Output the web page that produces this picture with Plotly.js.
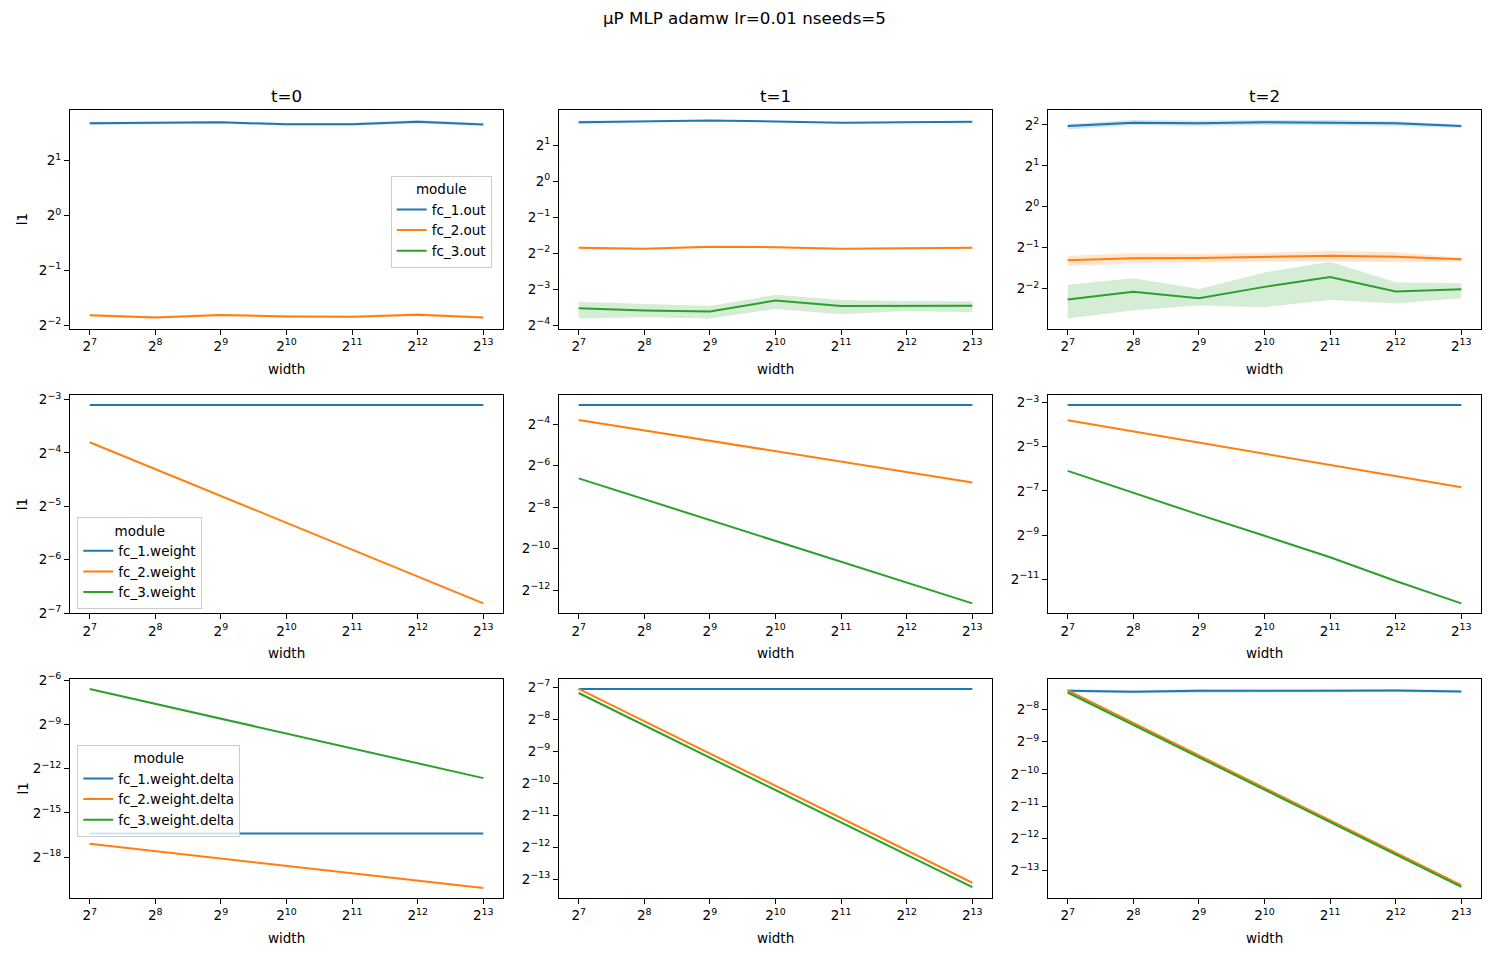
<!DOCTYPE html>
<html>
<head>
<meta charset="utf-8">
<script src="https://cdn.plot.ly/plotly-3.0.1.min.js"></script>
<style>html,body{margin:0;padding:0;background:#fff;}#chart{width:1489px;height:955px;}</style>
</head>
<body>
<div id="chart"></div>
<script>
// ---------- data ----------
const widths = [128, 256, 512, 1024, 2048, 4096, 8192];
const xTickExp = [7, 8, 9, 10, 11, 12, 13];
const colTitles = ['t=0', 't=1', 't=2'];
const rowModules = [
  ['fc_1.out', 'fc_2.out', 'fc_3.out'],
  ['fc_1.weight', 'fc_2.weight', 'fc_3.weight'],
  ['fc_1.weight.delta', 'fc_2.weight.delta', 'fc_3.weight.delta']
];

// row 1: activations (out)
const out_t0_fc1    = [3.20, 3.22, 3.24, 3.16, 3.16, 3.26, 3.15];
const out_t0_fc1_lo = [3.13, 3.17, 3.19, 3.11, 3.11, 3.19, 3.10];
const out_t0_fc1_hi = [3.26, 3.27, 3.29, 3.21, 3.21, 3.34, 3.20];
const out_t0_fc2    = [0.2833, 0.2761, 0.2847, 0.2795, 0.2783, 0.2858, 0.2761];
const out_t0_fc2_lo = [0.279, 0.272, 0.280, 0.275, 0.274, 0.280, 0.272];
const out_t0_fc2_hi = [0.288, 0.280, 0.289, 0.284, 0.282, 0.292, 0.280];
const out_t0_fc3    = [0, 0, 0, 0, 0, 0, 0];

const out_t1_fc1    = [3.114, 3.154, 3.215, 3.154, 3.074, 3.114, 3.134];
const out_t1_fc1_lo = [3.00, 3.12, 3.18, 3.11, 3.03, 3.08, 3.10];
const out_t1_fc1_hi = [3.21, 3.19, 3.25, 3.19, 3.11, 3.15, 3.17];
const out_t1_fc2    = [0.2773, 0.2719, 0.2827, 0.2809, 0.2719, 0.2755, 0.2773];
const out_t1_fc2_lo = [0.268, 0.266, 0.278, 0.276, 0.266, 0.271, 0.272];
const out_t1_fc2_hi = [0.285, 0.277, 0.287, 0.286, 0.277, 0.280, 0.282];
const out_t1_fc3    = [0.0866, 0.0829, 0.0813, 0.1005, 0.0907, 0.0912, 0.0912];
const out_t1_fc3_lo = [0.0711, 0.0729, 0.0711, 0.0856, 0.0773, 0.0824, 0.0802];
const out_t1_fc3_hi = [0.0982, 0.0944, 0.0907, 0.1123, 0.1017, 0.0998, 0.0992];

const out_t2_fc1    = [3.932, 4.161, 4.115, 4.188, 4.161, 4.115, 3.932];
const out_t2_fc1_lo = [3.716, 3.978, 3.934, 4.004, 3.978, 3.934, 3.802];
const out_t2_fc1_hi = [4.070, 4.352, 4.304, 4.356, 4.352, 4.259, 4.022];
const out_t2_fc2    = [0.4034, 0.4174, 0.4197, 0.4291, 0.4363, 0.4291, 0.4105];
const out_t2_fc2_lo = [0.3661, 0.3833, 0.3876, 0.3941, 0.3965, 0.3896, 0.3941];
const out_t2_fc2_hi = [0.4363, 0.4541, 0.4491, 0.4566, 0.4750, 0.4621, 0.4217];
const out_t2_fc3    = [0.2074, 0.2363, 0.2122, 0.2572, 0.3034, 0.2377, 0.2472];
const out_t2_fc3_lo = [0.1503, 0.1731, 0.1876, 0.1824, 0.2062, 0.1937, 0.2122];
const out_t2_fc3_hi = [0.2661, 0.2980, 0.2484, 0.3282, 0.3936, 0.2780, 0.2735];

// row 2: weights
const w_t0_fc1 = [0.1166, 0.1166, 0.1166, 0.1166, 0.1166, 0.1166, 0.1166];
const w_t0_fc2 = [0.0718, 0.0507, 0.0355, 0.0251, 0.0178, 0.0126, 0.00887];
const w_t0_fc3 = [0, 0, 0, 0, 0, 0, 0];
const w_t1_fc1 = [0.1196, 0.1196, 0.1196, 0.1196, 0.1196, 0.1196, 0.1196];
const w_t1_fc2 = [0.0722, 0.0511, 0.0361, 0.0256, 0.0180, 0.0127, 0.00895];
const w_t1_fc3 = [0.01024, 0.00510, 0.002542, 0.001265, 0.000631, 0.0003133, 0.0001562];
const w_t2_fc1 = [0.1161, 0.1161, 0.1161, 0.1161, 0.1161, 0.1161, 0.1161];
const w_t2_fc2 = [0.0716, 0.0505, 0.0357, 0.0251, 0.0177, 0.0125, 0.00878];
const w_t2_fc3 = [0.01466, 0.00733, 0.00371, 0.00191, 0.000975, 0.000462, 0.000229];

// row 3: weight deltas
const d_t0_fc1 = [1.168e-5, 1.168e-5, 1.168e-5, 1.168e-5, 1.168e-5, 1.168e-5, 1.168e-5];
const d_t0_fc2 = [7.163e-6, 5.065e-6, 3.581e-6, 2.532e-6, 1.791e-6, 1.266e-6, 8.954e-7];
const d_t0_fc3 = [0.01038, 0.005161, 0.002566, 0.001277, 0.000635, 0.0003159, 0.0001571];
const d_t1_fc1 = [0.007536, 0.007536, 0.007536, 0.007536, 0.007536, 0.007536, 0.007536];
const d_t1_fc2 = [0.007536, 0.003745, 0.001861, 0.0009252, 0.0004597, 0.0002284, 0.0001135];
const d_t1_fc3 = [0.006906, 0.003429, 0.001701, 0.0008449, 0.0004192, 0.0002082, 0.0001033];
const d_t1_fc3_lo = [0.00677, 0.00336, 0.001667, 0.000828, 0.000411, 0.000204, 0.0001012];
const d_t1_fc3_hi = [0.00705, 0.00350, 0.001736, 0.000862, 0.000428, 0.0002125, 0.0001054];
const d_t2_fc1    = [0.005816, 0.005692, 0.005816, 0.005776, 0.005816, 0.005856, 0.005732];
const d_t2_fc1_lo = [0.00564, 0.00552, 0.00564, 0.00560, 0.00564, 0.00568, 0.00556];
const d_t2_fc1_hi = [0.00600, 0.00587, 0.00600, 0.00595, 0.00600, 0.00605, 0.00592];
const d_t2_fc2 = [0.005856, 0.002918, 0.001453, 0.0007238, 0.0003604, 0.0001796, 0.0000894];
const d_t2_fc3    = [0.005609, 0.002796, 0.001394, 0.0006953, 0.0003469, 0.0001730, 0.00008626];
const d_t2_fc3_lo = [0.00546, 0.00272, 0.00136, 0.000677, 0.000338, 0.000168, 0.0000840];
const d_t2_fc3_hi = [0.00575, 0.00286, 0.00143, 0.000713, 0.000356, 0.000177, 0.0000886];

// y tick exponents (base 2) per panel
const yTicks_r1 = [[1, 0, -1, -2], [1, 0, -1, -2, -3, -4], [2, 1, 0, -1, -2]];
const yTicks_r2 = [[-3, -4, -5, -6, -7], [-4, -6, -8, -10, -12], [-3, -5, -7, -9, -11]];
const yTicks_r3 = [[-6, -9, -12, -15, -18], [-7, -8, -9, -10, -11, -12, -13], [-8, -9, -10, -11, -12, -13]];

// ---------- panels ----------
const panels = [
  [ [[out_t0_fc1, out_t0_fc1_lo, out_t0_fc1_hi], [out_t0_fc2, out_t0_fc2_lo, out_t0_fc2_hi], [out_t0_fc3]],
    [[out_t1_fc1, out_t1_fc1_lo, out_t1_fc1_hi], [out_t1_fc2, out_t1_fc2_lo, out_t1_fc2_hi], [out_t1_fc3, out_t1_fc3_lo, out_t1_fc3_hi]],
    [[out_t2_fc1, out_t2_fc1_lo, out_t2_fc1_hi], [out_t2_fc2, out_t2_fc2_lo, out_t2_fc2_hi], [out_t2_fc3, out_t2_fc3_lo, out_t2_fc3_hi]] ],
  [ [[w_t0_fc1], [w_t0_fc2], [w_t0_fc3]],
    [[w_t1_fc1], [w_t1_fc2], [w_t1_fc3]],
    [[w_t2_fc1], [w_t2_fc2], [w_t2_fc3]] ],
  [ [[d_t0_fc1], [d_t0_fc2], [d_t0_fc3]],
    [[d_t1_fc1], [d_t1_fc2], [d_t1_fc3, d_t1_fc3_lo, d_t1_fc3_hi]],
    [[d_t2_fc1, d_t2_fc1_lo, d_t2_fc1_hi], [d_t2_fc2], [d_t2_fc3, d_t2_fc3_lo, d_t2_fc3_hi]] ]
];
const yTicks = [yTicks_r1, yTicks_r2, yTicks_r3];

// ---------- style ----------
const W = 1489, H = 955;
const FONT = 'DejaVu Sans, Liberation Sans, sans-serif';
const colors = ['#1f77b4', '#ff7f0e', '#2ca02c'];
const fills = ['rgba(31,119,180,0.2)', 'rgba(255,127,14,0.2)', 'rgba(44,160,44,0.2)'];
const colPx = [[70, 503], [559, 992], [1048, 1481]];
const rowPx = [[110, 328.5], [395, 613.3], [679, 898]];
const legendPos = [[390.7, 175.7], [77.3, 517], [77.3, 744.7]];

function sup(e) { return '2<sup>' + String(e).replace('-', '\u2212') + '</sup>'; }

const traces = [];
const layout = {
  width: W, height: H,
  margin: {l: 0, r: 0, t: 0, b: 0},
  paper_bgcolor: '#fff', plot_bgcolor: '#fff',
  font: {family: FONT, size: 13.5, color: '#000'},
  showlegend: true,
  annotations: []
};

const xlo = Math.log10(widths[0]), xhi = Math.log10(widths[widths.length - 1]);
const xpad = (xhi - xlo) * 0.05;

for (let r = 0; r < 3; r++) {
  for (let c = 0; c < 3; c++) {
    const idx = r * 3 + c + 1;
    const xa = idx === 1 ? 'x' : 'x' + idx;
    const ya = idx === 1 ? 'y' : 'y' + idx;
    const legendName = c === 0 ? (r === 0 ? 'legend' : 'legend' + (r + 1)) : null;
    let vals = [];
    panels[r][c].forEach((s, k) => {
      const [y, lo, hi] = s;
      vals = vals.concat(y, lo || [], hi || []);
      if (lo && hi) {
        traces.push({
          type: 'scatter', mode: 'lines', xaxis: xa, yaxis: ya,
          x: widths.concat(widths.slice().reverse()),
          y: hi.concat(lo.slice().reverse()),
          fill: 'toself', fillcolor: fills[k], line: {width: 0, color: fills[k]},
          showlegend: false, hoverinfo: 'skip'
        });
      }
      const tr = {
        type: 'scatter', mode: 'lines', xaxis: xa, yaxis: ya,
        x: widths, y: y, name: rowModules[r][k],
        line: {color: colors[k], width: 2},
        showlegend: legendName !== null
      };
      if (legendName) tr.legend = legendName;
      traces.push(tr);
    });
    const pos = vals.filter(v => v > 0).map(v => Math.log10(v));
    const ymin = Math.min(...pos), ymax = Math.max(...pos);
    const ypad = (ymax - ymin) * 0.05;
    const axBase = {
      type: 'log', showline: true, mirror: true, linecolor: '#000', linewidth: 1,
      ticks: 'outside', ticklen: 5, tickwidth: 1, tickcolor: '#000',
      showgrid: false, zeroline: false, tickmode: 'array',
      tickfont: {family: FONT, size: 13.5, color: '#000'}
    };
    layout['xaxis' + (idx === 1 ? '' : idx)] = Object.assign({}, axBase, {
      domain: [colPx[c][0] / W, colPx[c][1] / W], anchor: ya,
      range: [xlo - xpad, xhi + xpad],
      tickvals: widths, ticktext: xTickExp.map(sup)
    });
    const te = yTicks[r][c];
    layout['yaxis' + (idx === 1 ? '' : idx)] = Object.assign({}, axBase, {
      domain: [1 - rowPx[r][1] / H, 1 - rowPx[r][0] / H], anchor: xa,
      range: [ymin - ypad, ymax + ypad],
      tickvals: te.map(e => Math.pow(2, e)), ticktext: te.map(sup)
    });
    // x title
    layout.annotations.push({
      text: 'width', xref: 'paper', yref: 'paper', showarrow: false,
      x: (colPx[c][0] + colPx[c][1]) / 2 / W, y: 1 - (rowPx[r][1] + 40) / H,
      xanchor: 'center', yanchor: 'middle', font: {family: FONT, size: 13.5, color: '#000'}
    });
    if (c === 0) {
      layout.annotations.push({
        text: 'l1', xref: 'paper', yref: 'paper', showarrow: false, textangle: -90,
        x: 22 / W, y: 1 - (rowPx[r][0] + rowPx[r][1]) / 2 / H,
        xanchor: 'center', yanchor: 'middle', font: {family: FONT, size: 13.5, color: '#000'}
      });
      const lg = {
        x: legendPos[r][0] / W, y: 1 - legendPos[r][1] / H, xanchor: 'left', yanchor: 'top',
        xref: 'paper', yref: 'paper',
        bgcolor: 'rgba(255,255,255,0.8)', bordercolor: '#cccccc', borderwidth: 1,
        font: {family: FONT, size: 13.5, color: '#000'},
        title: {text: 'module', side: 'top center', font: {family: FONT, size: 13.5, color: '#000'}},
        tracegroupgap: 0, itemwidth: 30
      };
      layout[legendName] = lg;
    }
    if (r === 0) {
      layout.annotations.push({
        text: colTitles[c], xref: 'paper', yref: 'paper', showarrow: false,
        x: (colPx[c][0] + colPx[c][1]) / 2 / W, y: 1 - 96 / H,
        xanchor: 'center', yanchor: 'middle', font: {family: FONT, size: 16.7, color: '#000'}
      });
    }
  }
}
layout.annotations.push({
  text: '\u03bcP MLP adamw lr=0.01 nseeds=5', xref: 'paper', yref: 'paper', showarrow: false,
  x: 0.5, y: 1 - 18 / H, xanchor: 'center', yanchor: 'middle',
  font: {family: FONT, size: 16.7, color: '#000'}
});

Plotly.newPlot('chart', traces, layout, {displayModeBar: false, staticPlot: true});
</script>
</body>
</html>
